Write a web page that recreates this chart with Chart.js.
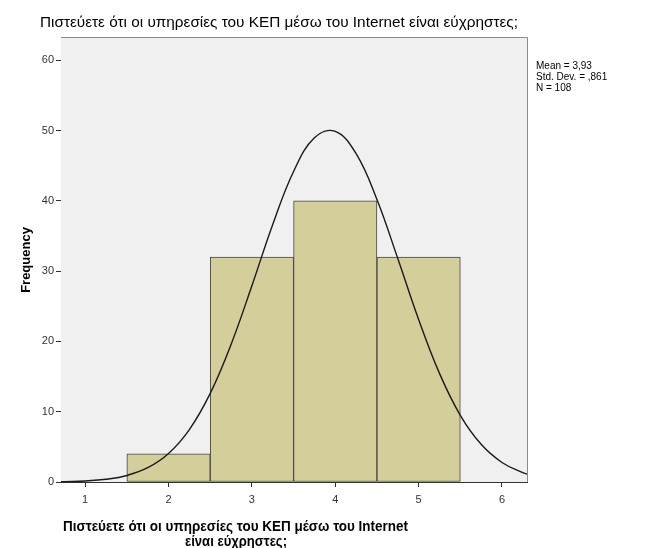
<!DOCTYPE html>
<html>
<head>
<meta charset="utf-8">
<script src="https://cdn.jsdelivr.net/npm/chart.js@4"></script>
<style>
  body { margin: 0; background: #fff; }
  #chart { display: block; }
</style>
</head>
<body>
<canvas id="chart" width="653" height="548"></canvas>
<script>
// histogram data
const binCenters = [2, 3, 4, 5];
const frequencies = [4, 32, 40, 32];

// normal curve
const curveX = [0.71, 0.75, 1, 1.25, 1.5, 1.75, 2, 2.25, 2.5, 2.75, 3, 3.25, 3.5, 3.75, 4, 4.25, 4.5, 4.75, 5, 5.25, 5.5, 5.75, 6, 6.25, 6.3];
const curveY = [0.04, 0.06, 0.15, 0.39, 0.93, 2.03, 4.06, 7.46, 12.6, 19.56, 27.92, 36.63, 44.17, 48.96, 49.87, 46.7, 40.19, 31.79, 23.12, 15.45, 9.49, 5.36, 2.78, 1.33, 1.13];

const xTicks = [1, 2, 3, 4, 5, 6];
const yTicks = [0, 10, 20, 30, 40, 50, 60];

const titleText = "Πιστεύετε ότι οι υπηρεσίες του ΚΕΠ μέσω του Internet είναι εύχρηστες;";
const xTitleLines = ["Πιστεύετε ότι οι υπηρεσίες του ΚΕΠ μέσω του Internet", "είναι εύχρηστες;"];
const yTitleText = "Frequency";
const statsLines = ["Mean = 3,93", "Std. Dev. = ,861", "N = 108"];

// draw text squeezed to a given width
function fitText(ctx, text, x, y, width) {
  const w = ctx.measureText(text).width;
  ctx.save();
  ctx.translate(x, y);
  ctx.scale(width / w, 1);
  ctx.fillText(text, 0, 0);
  ctx.restore();
}

const histPlugin = {
  id: 'histDecor',
  beforeDatasetsDraw(chart) {
    const { ctx, chartArea: a } = chart;
    ctx.save();
    ctx.fillStyle = '#f0f0f0';
    ctx.fillRect(a.left, a.top, a.right - a.left, a.bottom - a.top);
    ctx.restore();
  },
  afterDraw(chart) {
    const { ctx, chartArea: a } = chart;
    ctx.save();
    // top and right frame
    ctx.strokeStyle = '#8a8a8a';
    ctx.lineWidth = 1;
    ctx.beginPath();
    ctx.moveTo(a.left, a.top + 0.5);
    ctx.lineTo(a.right + 0.5, a.top + 0.5);
    ctx.lineTo(a.right + 0.5, a.bottom);
    ctx.stroke();

    ctx.fillStyle = '#000';
    ctx.textBaseline = 'alphabetic';
    ctx.textAlign = 'left';

    ctx.font = '15px "Liberation Sans", Arial, sans-serif';
    fitText(ctx, titleText, 40, 27, 478);

    ctx.font = 'bold 15px "Liberation Sans", Arial, sans-serif';
    fitText(ctx, xTitleLines[0], 63, 531, 345);
    fitText(ctx, xTitleLines[1], 185, 546, 102);

    ctx.save();
    ctx.translate(30, 260);
    ctx.rotate(-Math.PI / 2);
    ctx.textAlign = 'center';
    ctx.font = 'bold 13px "Liberation Sans", Arial, sans-serif';
    ctx.fillText(yTitleText, 0, 0);
    ctx.restore();

    ctx.font = '10px "Liberation Sans", Arial, sans-serif';
    statsLines.forEach((line, i) => ctx.fillText(line, 536, 69 + i * 11));
    ctx.restore();
  }
};

const ctxHist = document.getElementById("chart").getContext("2d");
const histChart = new Chart(ctxHist, {
  data: {
    datasets: [{
      type: 'line',
      label: 'Normal',
      data: curveX.map((x, i) => ({ x: x, y: curveY[i] })),
      borderColor: '#1a1a1a',
      borderWidth: 1.4,
      pointRadius: 0,
      tension: 0.4,
      fill: false,
      order: 0
    }, {
      type: 'bar',
      label: 'Frequency',
      data: binCenters.map((x, i) => ({ x: x, y: frequencies[i] })),
      backgroundColor: '#d3ce9a',
      borderColor: '#444',
      borderWidth: 1,
      borderSkipped: false,
      barPercentage: 1,
      categoryPercentage: 1,
      grouped: false,
      order: 1
    }]
  },
  options: {
    responsive: false,
    animation: false,
    layout: { padding: { top: 37, right: 126, left: 0, bottom: 0 } },
    plugins: {
      legend: { display: false },
      tooltip: { enabled: false }
    },
    scales: {
      x: {
        type: 'linear',
        offset: false,
        min: 0.71,
        max: 6.3,
        afterBuildTicks: s => { s.ticks = xTicks.map(v => ({ value: v })); },
        afterFit: s => { s.height = 66; },
        grid: { offset: false, drawOnChartArea: false, tickLength: 5, color: '#333' },
        border: { color: '#333', width: 1 },
        ticks: {
          color: '#333',
          padding: 6,
          maxRotation: 0,
          font: { family: '"Liberation Sans", Arial, sans-serif', size: 11 }
        }
      },
      y: {
        min: 0,
        max: 63.3,
        afterBuildTicks: s => { s.ticks = yTicks.map(v => ({ value: v })); },
        afterFit: s => { s.width = 61; },
        grid: { drawOnChartArea: false, tickLength: 5, color: '#333' },
        border: { color: '#333', width: 1 },
        ticks: {
          color: '#333',
          padding: 2,
          font: { family: '"Liberation Sans", Arial, sans-serif', size: 11 }
        }
      }
    }
  },
  plugins: [histPlugin]
});
</script>
</body>
</html>
